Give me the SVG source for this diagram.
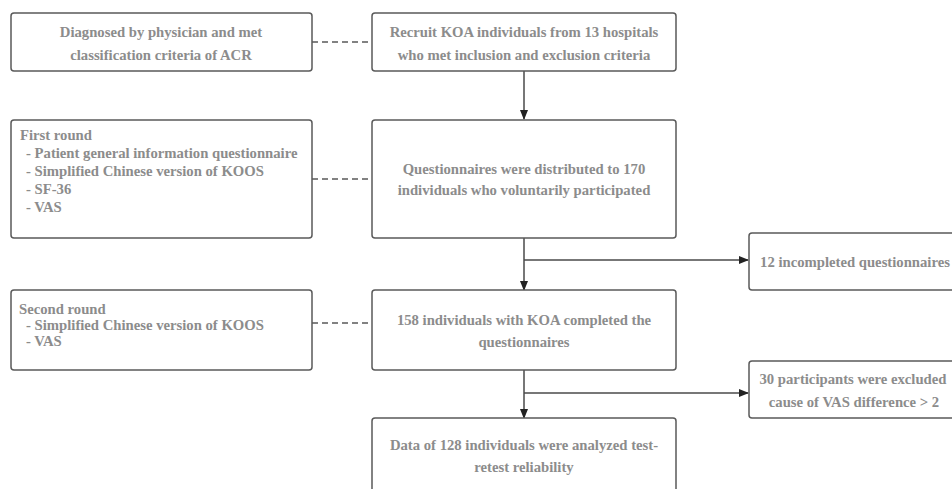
<svg xmlns="http://www.w3.org/2000/svg" width="952" height="489" viewBox="0 0 952 489">
<defs>
<style>
.box{fill:#fff;stroke:#5a5a5a;stroke-width:1.5}
.t{font-family:"Liberation Serif","Times New Roman",serif;font-weight:bold;font-size:14.7px;fill:#8c8c8c}
.c{text-anchor:middle}
.ln{fill:none;stroke:#4a4a4a;stroke-width:1.5}
.dash{fill:none;stroke:#5a5a5a;stroke-width:1.3;stroke-dasharray:6 4}
</style>
<marker id="ah" markerWidth="10" markerHeight="10" refX="9" refY="5" orient="auto" markerUnits="userSpaceOnUse">
<path d="M0,1 L10,5 L0,9 Z" fill="#222"/>
</marker>
</defs>
<rect width="952" height="489" fill="#fff"/>
<g id="connectors">
<path class="dash" d="M312,42 H372"/>
<path class="dash" d="M312,179 H372"/>
<path class="dash" d="M312,323 H372"/>
<path class="ln" d="M524,71 V119" marker-end="url(#ah)"/>
<path class="ln" d="M524,238 V290" marker-end="url(#ah)"/>
<path class="ln" d="M524,260 H748" marker-end="url(#ah)"/>
<path class="ln" d="M524,370 V418" marker-end="url(#ah)"/>
<path class="ln" d="M524,393 H748" marker-end="url(#ah)"/>
</g>
<g id="diagnosed">
<rect class="box" x="11" y="13" width="301" height="58" rx="3"/>
<text class="t c" x="161" y="37">Diagnosed by physician and met</text>
<text class="t c" x="161" y="60">classification criteria of ACR</text>
</g>
<g id="recruit">
<rect class="box" x="372" y="13" width="304" height="58" rx="3"/>
<text class="t c" x="524" y="37">Recruit KOA individuals from 13 hospitals</text>
<text class="t c" x="524" y="60">who met inclusion and exclusion criteria</text>
</g>
<g id="first-round">
<rect class="box" x="11" y="120" width="301" height="118" rx="3"/>
<text class="t" x="20" y="140">First round</text>
<text class="t" x="26" y="158">- Patient general information questionnaire</text>
<text class="t" x="26" y="176">- Simplified Chinese version of KOOS</text>
<text class="t" x="26" y="194">- SF-36</text>
<text class="t" x="26" y="212">- VAS</text>
</g>
<g id="distributed">
<rect class="box" x="372" y="120" width="304" height="118" rx="3"/>
<text class="t c" x="524" y="174">Questionnaires were distributed to 170</text>
<text class="t c" x="524" y="195">individuals who voluntarily participated</text>
</g>
<g id="incompleted">
<rect class="box" x="749" y="233" width="210" height="57" rx="3"/>
<text class="t c" x="855" y="267">12 incompleted questionnaires</text>
</g>
<g id="second-round">
<rect class="box" x="11" y="290" width="301" height="80" rx="3"/>
<text class="t" x="19" y="314">Second round</text>
<text class="t" x="26" y="330">- Simplified Chinese version of KOOS</text>
<text class="t" x="26" y="346">- VAS</text>
</g>
<g id="completed">
<rect class="box" x="372" y="290" width="304" height="80" rx="3"/>
<text class="t c" x="524" y="325">158 individuals with KOA completed the</text>
<text class="t c" x="524" y="347">questionnaires</text>
</g>
<g id="excluded">
<rect class="box" x="749" y="361" width="210" height="57" rx="3"/>
<text class="t c" x="853" y="384">30 participants were excluded</text>
<text class="t c" x="854" y="407">cause of VAS difference &gt; 2</text>
</g>
<g id="analyzed">
<rect class="box" x="372" y="418" width="304" height="90" rx="3"/>
<text class="t c" x="524" y="450">Data of 128 individuals were analyzed test-</text>
<text class="t c" x="524" y="472">retest reliability</text>
</g>
</svg>
